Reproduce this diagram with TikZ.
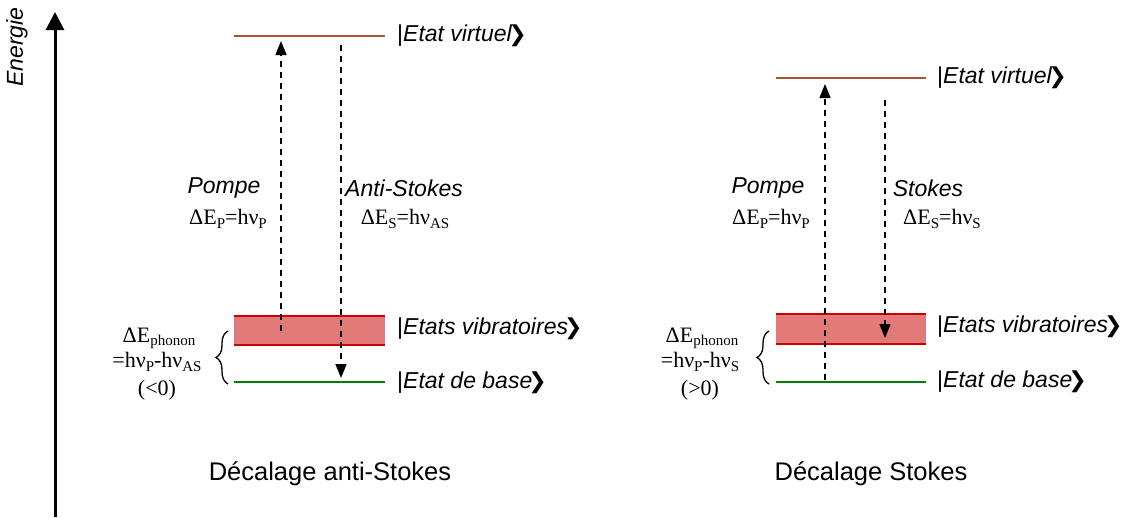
\documentclass[tikz,border=0pt]{standalone}
\usepackage{fontspec}
\setmainfont{Liberation Serif}
\setsansfont{Liberation Sans}
\newfontfamily\dvs{DejaVu Sans}
\usetikzlibrary{arrows.meta,decorations.pathreplacing}
\definecolor{virt}{RGB}{166,88,40}
\definecolor{vibedge}{RGB}{204,0,0}
\definecolor{vibfill}{RGB}{226,122,122}
\definecolor{basecol}{RGB}{0,128,0}
\newcommand\sbs[1]{\raisebox{-0.15em}{\fontsize{15}{15}\selectfont #1}}
\newcommand\kt{\kern-4pt{\dvs\fontsize{22}{22}\selectfont ❯}}
\begin{document}
\begin{tikzpicture}[x=1pt,y=-1pt,
  lbl/.style={font=\sffamily\itshape\fontsize{23}{27}\selectfont, inner sep=0pt},
  ket/.style={font=\sffamily\fontsize{23}{27}\selectfont, anchor=west, inner sep=0pt},
  eq/.style={font=\fontsize{22}{26}\selectfont, inner sep=0pt},
  caption/.style={font=\sffamily\fontsize{25.5}{30}\selectfont, inner sep=0pt},
  level/.style={line width=2pt},
  photon/.style={dash pattern=on 6pt off 5pt, line width=1.5pt, -{Triangle[length=14pt,width=11pt]}},
  brc/.style={decorate, decoration={brace, amplitude=12pt}, line width=1.3pt}
]
\useasboundingbox (0,0) rectangle (1132,517);
% axis
\coordinate (ax0) at (55,517);
\coordinate (ax1) at (55,12);
\draw[line width=3pt,-{Triangle[length=18pt,width=18pt]}] (ax0) -- (ax1);
\node[lbl, rotate=90] (energie) at (17,47) {Energie};

% ---------- left diagram ----------
\fill[vibfill] (234,316) rectangle (385,345);
\draw[level, virt] (234,36) -- (385,36);
\draw[level, vibedge] (234,316) -- (385,316);
\draw[level, vibedge] (234,345) -- (385,345);
\draw[level, basecol] (234,382) -- (385,382);

\coordinate (Lp0) at (281,331);
\coordinate (Lp1) at (281,41);
\coordinate (Ls0) at (341,45);
\coordinate (Ls1) at (341,378);
\draw[photon] (Lp0) -- (Lp1);
\draw[photon] (Ls0) -- (Ls1);

\node[lbl] (Lpompe) at (224,188) {Pompe};
\node[eq] (LEp) at (228,219) {ΔE\sbs{P}=hν\sbs{P}};
\node[lbl] (Las) at (404,188) {Anti-Stokes};
\node[eq] (LEs) at (405,219) {ΔE\sbs{S}=hν\sbs{AS}};

\node[ket] (Lkv) at (397,36) {|\textit{Etat virtuel}\kt};
\node[ket] (Lkvib) at (397,329) {|\textit{Etats vibratoires}\kt};
\node[ket] (Lkb) at (397,383) {|\textit{Etat de base}\kt};

\coordinate (Lb0) at (228,384);
\coordinate (Lb1) at (228,331);
\draw[brc] (Lb0) -- (Lb1);
\node[eq] (Lph1) at (159,338) {ΔE\sbs{phonon}};
\node[eq] (Lph2) at (157,362) {=hν\sbs{P}-hν\sbs{AS}};
\node[eq] (Lph3) at (157,390) {(<0)};

\node[caption] (Lcap) at (330,474) {Décalage anti-Stokes};

% ---------- right diagram ----------
\fill[vibfill] (776,314) rectangle (926,344);
\draw[level, virt] (776,78) -- (926,78);
\draw[level, vibedge] (776,314) -- (926,314);
\draw[level, vibedge] (776,344) -- (926,344);
\draw[level, basecol] (776,382) -- (926,382);

\coordinate (Rp0) at (825,380);
\coordinate (Rp1) at (825,84);
\coordinate (Rs0) at (885,100);
\coordinate (Rs1) at (885,338);
\draw[photon] (Rp0) -- (Rp1);
\draw[photon] (Rs0) -- (Rs1);

\node[lbl] (Rpompe) at (768,188) {Pompe};
\node[eq] (REp) at (771,219) {ΔE\sbs{P}=hν\sbs{P}};
\node[lbl] (Rst) at (928,188) {Stokes};
\node[eq] (REs) at (942,219) {ΔE\sbs{S}=hν\sbs{S}};

\node[ket] (Rkv) at (937,78) {|\textit{Etat virtuel}\kt};
\node[ket] (Rkvib) at (937,327) {|\textit{Etats vibratoires}\kt};
\node[ket] (Rkb) at (937,382) {|\textit{Etat de base}\kt};

\coordinate (Rb0) at (769,384);
\coordinate (Rb1) at (769,331);
\draw[brc] (Rb0) -- (Rb1);
\node[eq] (Rph1) at (702,338) {ΔE\sbs{phonon}};
\node[eq] (Rph2) at (700,362) {=hν\sbs{P}-hν\sbs{S}};
\node[eq] (Rph3) at (700,390) {(>0)};

\node[caption] (Rcap) at (871,474) {Décalage Stokes};
\end{tikzpicture}
\end{document}
